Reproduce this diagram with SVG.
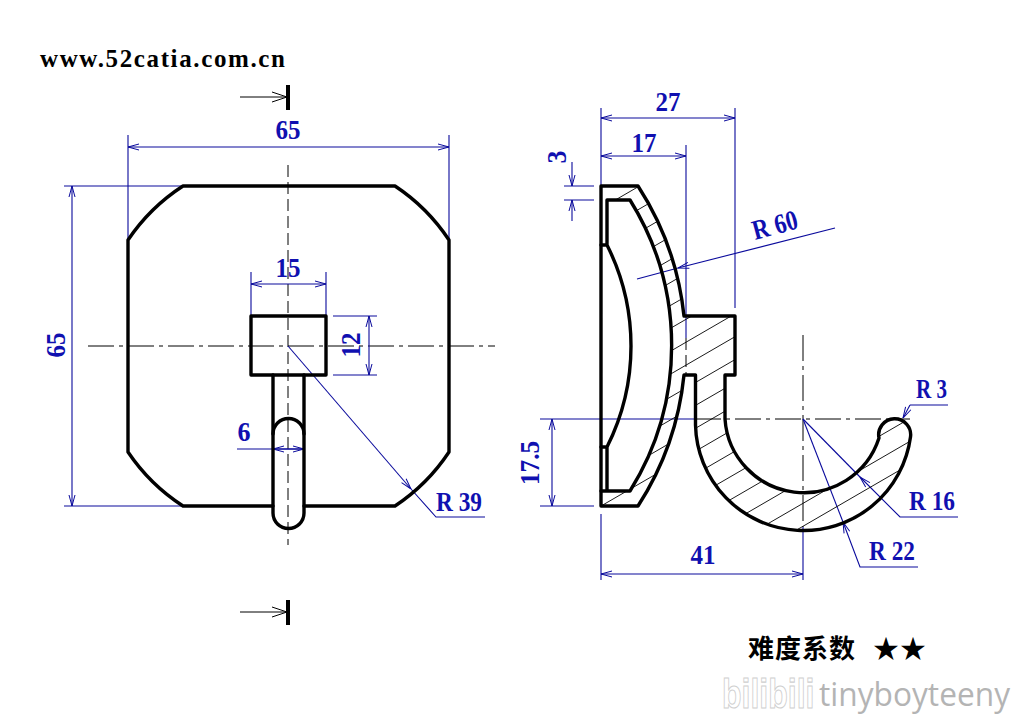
<svg xmlns="http://www.w3.org/2000/svg" width="1012" height="717" viewBox="0 0 1012 717">
<style>
.obj{fill:none;stroke:#000;stroke-width:3.4;stroke-linejoin:round;stroke-linecap:round}
.dim{fill:none;stroke:#0a0a9c;stroke-width:1.1}
.ctr{fill:none;stroke:#000;stroke-width:1;stroke-dasharray:26 5 4 5}
.dash{fill:none;stroke:#000;stroke-width:1;stroke-dasharray:12 5}
.hat{fill:none;stroke:#000;stroke-width:.9}
.thin{fill:none;stroke:#000;stroke-width:1}
text{font-family:"Liberation Serif","Noto Sans CJK SC",serif}
.t{fill:#1010b0;font-size:28px;font-weight:bold;text-anchor:middle}
.r{fill:#1010b0;font-size:28px;font-weight:bold}
</style>
<defs>
<marker id="a" viewBox="0 0 12 8" refX="12" refY="4" markerWidth="12" markerHeight="8" markerUnits="userSpaceOnUse" orient="auto-start-reverse"><path d="M1 1L12 4L1 7" fill="none" stroke="#0a0a9c" stroke-width="1"/></marker>
<marker id="k" viewBox="0 0 16 12" refX="16" refY="6" markerWidth="16" markerHeight="12" markerUnits="userSpaceOnUse" orient="auto"><path d="M1 1L16 6L1 11" fill="none" stroke="#000" stroke-width="1"/></marker>
<clipPath id="sec"><path d="M601 186H638A296 296 0 0 1 684 316H735V375H725V419A79 79 0 0 0 879 438A16 16 0 1 1 910.500 437A108 108 0 0 1 695.500 425V375H684A296 296 0 0 1 638 506H601V491H630A275 275 0 0 0 630 200H601Z"/></clipPath>
</defs>
<g id="connectors">
<path class="ctr" d="M88 346H495"/>
<path class="dash" d="M288 165V545"/>
<path class="ctr" d="M695 419H910"/>
<path class="ctr" d="M803 335V527"/>
<path class="dash" d="M686 338V375"/>
<path class="thin" d="M240 97H287" marker-end="url(#k)"/>
<path class="thin" d="M240 612H287" marker-end="url(#k)"/>
<path class="dim" d="M128 135V240M449 135V240M64 186H183M64 506H183M251 272V316M326 272V316M333 316H377M333 375H377"/>
<path class="dim" d="M128 147H449" marker-start="url(#a)" marker-end="url(#a)"/>
<path class="dim" d="M72 186V506" marker-start="url(#a)" marker-end="url(#a)"/>
<path class="dim" d="M251 284H326" marker-start="url(#a)" marker-end="url(#a)"/>
<path class="dim" d="M369 316V375" marker-start="url(#a)" marker-end="url(#a)"/>
<path class="dim" d="M237 449H304" marker-end="url(#a)"/>
<path class="dim" d="M304 449H273" marker-end="url(#a)"/>
<path class="dim" d="M288 346L411 489" marker-end="url(#a)"/>
<path class="dim" d="M411 489L436 517H485"/>
<path class="dim" d="M835 228L678 268" marker-end="url(#a)"/>
<path class="dim" d="M678 268L637 279"/>
<path class="dim" d="M601 108V186M735 108V308M686 145V338"/>
<path class="dim" d="M601 118H735" marker-start="url(#a)" marker-end="url(#a)"/>
<path class="dim" d="M601 156H686" marker-start="url(#a)" marker-end="url(#a)"/>
<path class="dim" d="M564 186H594M564 200H594"/>
<path class="dim" d="M572 162V186" marker-end="url(#a)"/>
<path class="dim" d="M572 221V200" marker-end="url(#a)"/>
<path class="dim" d="M540 419H695M540 506H594M601 514V580M803 527V580"/>
<path class="dim" d="M552 419V506" marker-start="url(#a)" marker-end="url(#a)"/>
<path class="dim" d="M601 574H803" marker-start="url(#a)" marker-end="url(#a)"/>
<path class="dim" d="M910 405L903 418" marker-end="url(#a)"/>
<path class="dim" d="M948 405H910"/>
<path class="dim" d="M958 517H900L860 477" marker-end="url(#a)"/>
<path class="dim" d="M860 477L803 419"/>
<path class="dim" d="M918 567H860L843 522" marker-end="url(#a)"/>
<path class="dim" d="M843 522L803 419"/>
</g>
<g id="front-view">
<path class="obj" d="M273 506H183A192 192 0 0 1 128 452V240A192 192 0 0 1 183 186H395A192 192 0 0 1 449 240V452A192 192 0 0 1 395 506H304"/>
<rect class="obj" x="251" y="316" width="75" height="59"/>
<path class="obj" d="M273 375V513A15.500 15.500 0 0 0 304 513V375"/>
<path class="obj" d="M273 434A15.500 15.500 0 0 1 304 434"/>
</g>
<g id="section-view">
<path class="hat" clip-path="url(#sec)" d="M595 646.900L920 458.400M595 624L920 435.500M595 601.100L920 412.600M595 578.200L920 389.700M595 555.300L920 366.800M595 532.400L920 343.900M595 509.500L920 321M595 486.600L920 298.100M595 463.700L920 275.200M595 440.800L920 252.300M595 417.900L920 229.400M595 395L920 206.500M595 372.100L920 183.600M595 349.200L920 160.700M595 326.300L920 137.800M595 303.400L920 114.900M595 280.500L920 92M595 257.600L920 69.100M595 234.700L920 46.200M595 211.800L920 23.300"/>
<path class="obj" d="M601 186H638A296 296 0 0 1 684 316H735V375H725V419A79 79 0 0 0 879 438A16 16 0 1 1 910.500 437A108 108 0 0 1 695.500 425V375H684A296 296 0 0 1 638 506H601Z"/>
<path class="obj" d="M601 491H630A275 275 0 0 0 630 200H607V245H601M607 245A224.500 224.500 0 0 1 607 447H601M607 447V491"/>
</g>
<g id="section-marks">
<path d="M288 85V110M288 600V625" fill="none" stroke="#000" stroke-width="4"/>
</g>
<g id="labels">
<text x="40" y="67" font-size="25" font-weight="bold" textLength="245" lengthAdjust="spacing">www.52catia.com.cn</text>
<text class="t" x="288" y="139" textLength="25" lengthAdjust="spacingAndGlyphs">65</text>
<text class="t" transform="translate(65 345) rotate(-90)" textLength="25" lengthAdjust="spacingAndGlyphs">65</text>
<text class="t" x="288" y="277" textLength="25" lengthAdjust="spacingAndGlyphs">15</text>
<text class="t" transform="translate(360 345) rotate(-90)" textLength="25" lengthAdjust="spacingAndGlyphs">12</text>
<text class="t" x="244" y="441" textLength="13" lengthAdjust="spacingAndGlyphs">6</text>
<text class="r" x="436" y="511" textLength="46" lengthAdjust="spacingAndGlyphs">R 39</text>
<text class="t" x="668" y="111" textLength="25" lengthAdjust="spacingAndGlyphs">27</text>
<text class="t" x="644" y="152" textLength="25" lengthAdjust="spacingAndGlyphs">17</text>
<text class="t" transform="translate(566 157) rotate(-90)" textLength="13" lengthAdjust="spacingAndGlyphs">3</text>
<text class="r" transform="translate(755 240) rotate(-15)" textLength="46" lengthAdjust="spacingAndGlyphs">R 60</text>
<text class="t" transform="translate(539 463) rotate(-90)" textLength="44" lengthAdjust="spacingAndGlyphs">17.5</text>
<text class="t" x="703" y="564" textLength="25" lengthAdjust="spacingAndGlyphs">41</text>
<text class="r" x="916" y="398" textLength="31" lengthAdjust="spacingAndGlyphs">R 3</text>
<text class="r" x="909" y="510" textLength="46" lengthAdjust="spacingAndGlyphs">R 16</text>
<text class="r" x="869" y="560" textLength="46" lengthAdjust="spacingAndGlyphs">R 22</text>
<text x="748" y="658" font-size="26" font-weight="bold" fill="#000" letter-spacing="1">难度系数<tspan x="873">★★</tspan></text>
</g>
<g id="watermark">
<text transform="translate(722 708) scale(1 1.25)" font-size="32" font-weight="bold" fill="#fff" stroke="#cfcfcf" stroke-width=".8" style="font-family:'Liberation Sans',sans-serif">bilibili</text>
<text x="819" y="706" font-size="32" fill="#b4b4b4" textLength="191" lengthAdjust="spacingAndGlyphs" style="font-family:'Open Sans',sans-serif">tinyboyteeny</text>
</g>
</svg>
